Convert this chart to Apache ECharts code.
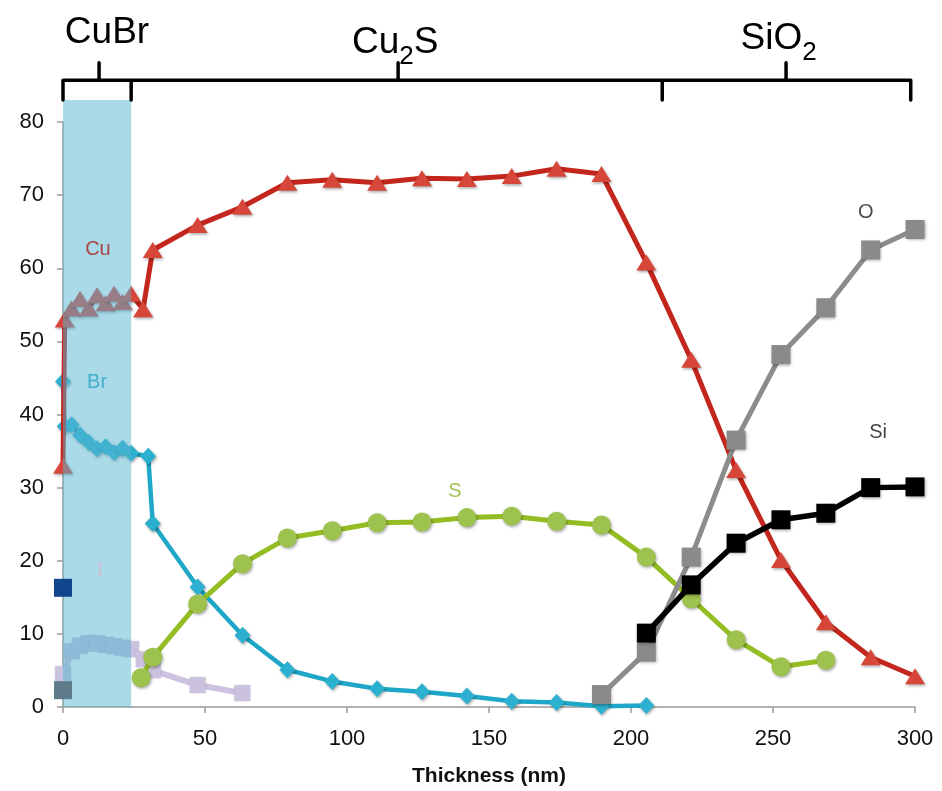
<!DOCTYPE html>
<html>
<head>
<meta charset="utf-8">
<script src="https://cdn.jsdelivr.net/npm/echarts@6.0.0/dist/echarts.min.js"></script>
<style>
  html, body { margin: 0; padding: 0; background: #fff; }
  #chart { width: 942px; height: 791px; }
</style>
</head>
<body>
<div id="chart"></div>
<script>
// XPS depth profile through a CuBr / Cu2S / SiO2 stack (atomic %, depth in nm)

const cuDepth = [0, 0.6, 3, 6, 9, 12, 15, 18, 21, 24, 28.2, 31.6, 47.4, 63.2, 79, 94.8, 110.6, 126.4, 142.2, 158, 173.8, 189.6, 205.4, 221.2, 237, 252.8, 268.6, 284.4, 300];
const cuPct   = [33, 53, 54.5, 55.8, 54.5, 56.3, 55.2, 56.5, 55.4, 56.5, 54.4, 62.5, 65.9, 68.4, 71.7, 72.1, 71.7, 72.3, 72.2, 72.6, 73.6, 72.9, 60.8, 47.5, 32.4, 20.1, 11.6, 6.8, 4.2];

const brDepth = [0, 0.6, 3, 6, 9, 12, 15, 18, 21, 24, 30, 31.6, 47.4, 63.2, 79, 94.8, 110.6, 126.4, 142.2, 158, 173.8, 189.6, 205.4];
const brPct   = [44.5, 38.4, 38.6, 37.2, 36.2, 35.3, 35.6, 34.8, 35.4, 34.7, 34.3, 25.1, 16.4, 9.8, 5.1, 3.5, 2.5, 2.1, 1.5, 0.8, 0.6, 0.1, 0.2];

const sDepth = [27.5, 31.6, 47.4, 63.2, 79, 94.8, 110.6, 126.4, 142.2, 158, 173.8, 189.6, 205.4, 221.2, 237, 252.8, 268.6];
const sPct   = [4.0, 6.8, 14.1, 19.6, 23.1, 24.1, 25.2, 25.3, 25.9, 26.1, 25.4, 24.9, 20.5, 14.8, 9.2, 5.5, 6.4];

// first entry of O and Si is the lone surface reading at 0 nm
const oDepth = [0, 189.6, 205.4, 221.2, 237, 252.8, 268.6, 284.4, 300];
const oPct   = [2.3, 1.7, 7.5, 20.5, 36.5, 48.2, 54.6, 62.5, 65.3];

const siDepth = [0, 205.4, 221.2, 237, 252.8, 268.6, 284.4, 300];
const siPct   = [16.3, 10.1, 16.7, 22.4, 25.6, 26.5, 30.0, 30.1];

const iDepth = [0, 3, 6, 9, 12, 15, 18, 21, 24, 28.4, 31.6, 47.4, 63.2];
const iPct   = [4.5, 7.6, 8.4, 8.7, 8.7, 8.5, 8.3, 8.1, 7.9, 6.5, 5.0, 3.0, 1.9];

// Element names written beside their curves
const elemNames  = ['Cu', 'Br', 'I', 'S', 'O', 'Si'];
const elemAt     = [[12.3, 62.6], [12, 44.4], [13, 18.6], [138, 29.5], [282.7, 67.6], [287, 37.6]];
const elemColors = ['#a6221c', '#27a4c4', '#d7b7cf', '#8ab12a', '#222222', '#111111'];

// Layer ranges along the depth axis
const layerNames = ['CuBr', 'Cu{s|2}S', 'SiO{s|2}'];
const layerStart = [0, 24, 211];
const layerEnd   = [24, 211, 298.5];
const layerMid   = [12.7, 118, 254.6];
const layerLabelAt = [[15.5, 95.2], [117, 93.9], [252, 94.4]];

// Heights (in % units of the main scale) used by the layer brackets
const bandTop = 83;
const braceY = 85.7;
const braceTipY = 88.1;

const xTicks = { min: 0, max: 300, interval: 50 };
const yTicks = { min: 0, max: 80, interval: 10 };

const FONT = '"Liberation Sans", Arial, Helvetica, sans-serif';
const pairs = (xs, ys) => xs.map((x, i) => [x, ys[i]]);

// Bracket path: one long rule with end ticks, plus inner boundaries and centre tips
const brace = [];
brace.push([layerStart[0], bandTop], [layerStart[0], braceY], [layerEnd[2], braceY], [layerEnd[2], bandTop], [null, null]);
for (let k = 1; k < layerStart.length; k++) {
  brace.push([layerStart[k], bandTop], [layerStart[k], braceY], [null, null]);
}
layerMid.forEach(m => brace.push([m, braceY], [m, braceTipY], [null, null]));

const shadow = { shadowBlur: 3, shadowColor: 'rgba(0,0,0,0.35)', shadowOffsetX: 1, shadowOffsetY: 1.5 };

function seriesOf(name, data, opt) {
  return Object.assign({
    name: name, type: 'line', xAxisIndex: 0, yAxisIndex: 0,
    data: data, connectNulls: false, animation: false, clip: false
  }, opt);
}

const chart = echarts.init(document.getElementById('chart'));

chart.setOption({
  backgroundColor: '#ffffff',
  textStyle: { fontFamily: FONT },
  grid: [
    { left: 63, right: 27, top: 122, bottom: 84, containLabel: false, outerBoundsMode: 'none' },
    { left: 63, right: 27, top: 5, bottom: 84, containLabel: false, outerBoundsMode: 'none' }
  ],
  xAxis: [
    {
      type: 'value', gridIndex: 0, min: xTicks.min, max: xTicks.max, interval: xTicks.interval,
      name: 'Thickness (nm)', nameLocation: 'middle', nameGap: 59,
      nameTextStyle: { fontSize: 21, fontWeight: 'bold', color: '#111', fontFamily: FONT },
      axisLine: { show: true, lineStyle: { color: '#9a9a9a', width: 1.5 } },
      axisTick: { show: true, length: 6, lineStyle: { color: '#9a9a9a', width: 1.5 } },
      axisLabel: { fontSize: 22, color: '#111', margin: 21, fontFamily: FONT },
      splitLine: { show: false }
    },
    { type: 'value', gridIndex: 1, min: xTicks.min, max: xTicks.max, show: false }
  ],
  yAxis: [
    {
      type: 'value', gridIndex: 0, min: yTicks.min, max: yTicks.max, interval: yTicks.interval,
      axisLine: { show: true, lineStyle: { color: '#9a9a9a', width: 1.5 } },
      axisTick: { show: true, length: 6, lineStyle: { color: '#9a9a9a', width: 1.5 } },
      axisLabel: { fontSize: 22, color: '#111', margin: 19, fontFamily: FONT },
      splitLine: { show: false }
    },
    { type: 'value', gridIndex: 1, min: 0, max: 96, show: false }
  ],
  series: [
    seriesOf('I', pairs(iDepth, iPct), {
      z: 2, symbol: 'rect', symbolSize: 16,
      lineStyle: { color: '#cdc3e0', width: 6 },
      itemStyle: { color: '#cbc2df', shadowBlur: 2, shadowColor: 'rgba(0,0,0,0.15)' }
    }),
    seriesOf('Br', pairs(brDepth, brPct), {
      z: 3, symbol: 'diamond', symbolSize: [16, 17],
      lineStyle: { color: '#1ea7c7', width: 4.5 },
      itemStyle: Object.assign({ color: '#2cb0cf' }, shadow)
    }),
    seriesOf('S', pairs(sDepth, sPct), {
      z: 3, symbol: 'circle', symbolSize: 19,
      lineStyle: { color: '#93bd22', width: 5 },
      itemStyle: Object.assign({ color: '#9dc24d' }, shadow)
    }),
    seriesOf('Cu', pairs(cuDepth, cuPct), {
      z: 4, symbol: 'triangle', symbolSize: [20, 16],
      lineStyle: { color: '#c3261c', width: 5 },
      itemStyle: Object.assign({ color: '#d6473a' }, shadow)
    }),
    seriesOf('O', pairs(oDepth, oPct).slice(1), {
      z: 5, symbol: 'rect', symbolSize: 19,
      lineStyle: { color: '#8c8c8c', width: 5 },
      itemStyle: Object.assign({ color: '#8a8a8a' }, shadow)
    }),
    seriesOf('Si', pairs(siDepth, siPct).slice(1), {
      z: 6, symbol: 'rect', symbolSize: 19,
      lineStyle: { color: '#000', width: 5.5 },
      itemStyle: Object.assign({ color: '#000' }, shadow)
    }),
    // translucent band marking the CuBr layer, drawn over the profiles
    {
      name: 'CuBr layer', type: 'line', xAxisIndex: 1, yAxisIndex: 1, z: 8, animation: false, silent: true,
      data: [[layerStart[0], bandTop], [layerEnd[0], bandTop]],
      symbol: 'none', lineStyle: { width: 0 },
      areaStyle: { color: 'rgba(85,180,210,0.5)', origin: 'start', opacity: 1 }
    },
    // surface readings of O and Si at 0 nm
    seriesOf('O (surface)', pairs(oDepth, oPct).slice(0, 1), {
      z: 10, symbol: 'rect', symbolSize: 18,
      itemStyle: { color: '#5e7b8a' }
    }),
    seriesOf('Si (surface)', pairs(siDepth, siPct).slice(0, 1), {
      z: 10, symbol: 'rect', symbolSize: 18,
      itemStyle: { color: '#0f468c' }
    }),
    // element names
    {
      name: 'element names', type: 'scatter', xAxisIndex: 0, yAxisIndex: 0, z: 11, animation: false, silent: true,
      symbolSize: 0,
      data: elemNames.map((n, i) => ({
        name: n, value: elemAt[i],
        label: { color: elemColors[i], fontFamily: i === 2 ? '"Liberation Serif", "DejaVu Serif", serif' : FONT }
      })),
      label: { show: true, position: 'inside', formatter: p => p.name, fontSize: 20 }
    },
    // layer brackets and names along the top
    {
      name: 'layers', type: 'line', xAxisIndex: 1, yAxisIndex: 1, z: 9, animation: false, silent: true,
      data: brace, connectNulls: false, symbol: 'none',
      lineStyle: { color: '#000', width: 3.5, cap: 'round', join: 'round' },
      markPoint: {
        symbol: 'rect', symbolSize: 0, silent: true,
        label: {
          show: true, position: 'inside', fontFamily: FONT,
          formatter: p => p.name,
          rich: {
            s: { fontSize: 26, lineHeight: 26, padding: [23, 0, 0, 0], verticalAlign: 'top', color: '#000', fontFamily: FONT }
          },
          fontSize: 37, lineHeight: 44, verticalAlign: 'top', color: '#000'
        },
        data: layerNames.map((n, i) => ({ name: n, coord: layerLabelAt[i] }))
      }
    }
  ]
});
</script>
</body>
</html>
